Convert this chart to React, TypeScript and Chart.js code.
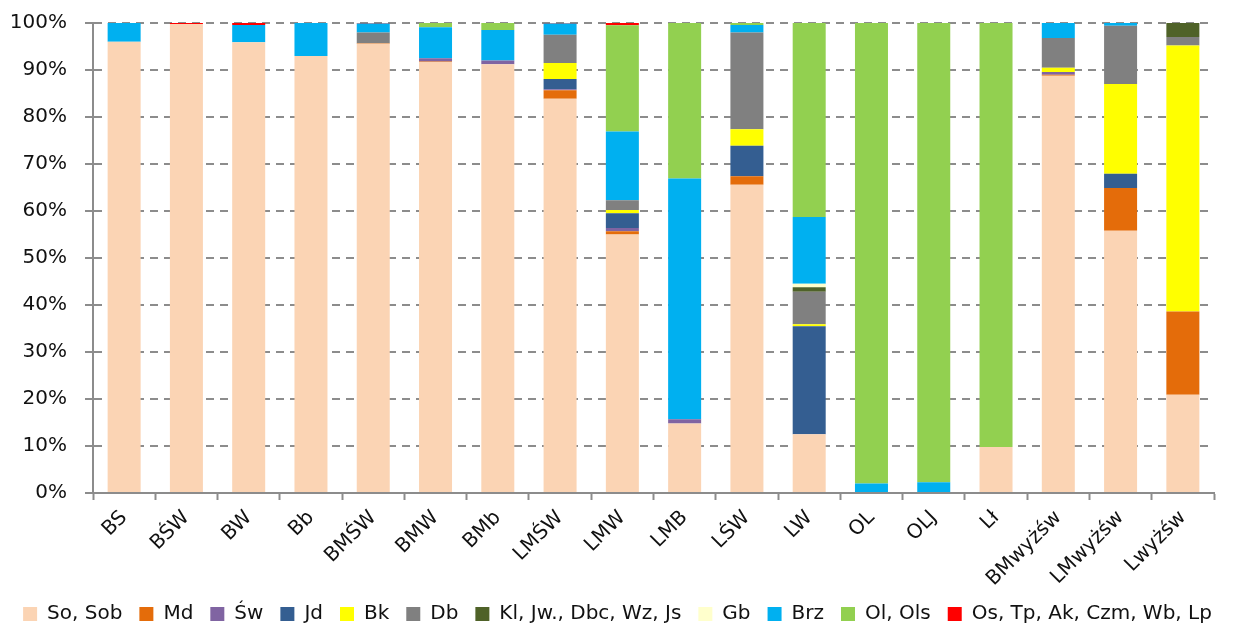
import React, { useEffect, useRef } from "react";
import { Chart, registerables } from "chart.js";

Chart.register(...registerables);

const categories = [
  "BS", "BŚW", "BW", "Bb", "BMŚW", "BMW", "BMb", "LMŚW", "LMW", "LMB",
  "LŚW", "LW", "OL", "OLJ", "Lł", "BMwyżśw", "LMwyżśw", "Lwyżśw",
];

const seriesNames = [
  "So, Sob", "Md", "Św", "Jd", "Bk", "Db", "Kl, Jw., Dbc, Wz, Js", "Gb", "Brz", "Ol, Ols",
  "Os, Tp, Ak, Czm, Wb, Lp",
];

const seriesColors = [
  "#FBD4B4", "#E46C0A", "#8064A2", "#345E91", "#FFFF00", "#808080", "#4F6228",
  "#FFFFCC", "#00B0F0", "#92D050", "#FF0000",
];

const soSob = [96.0, 99.8, 95.9, 93.0, 95.6, 91.7, 91.2, 83.9, 55.0, 14.8, 65.6, 12.5, 0, 0, 9.8, 88.8, 55.8, 20.9];
const md = [0, 0, 0, 0, 0.1, 0.1, 0, 1.8, 0.7, 0, 1.8, 0, 0, 0, 0, 0.2, 9.1, 17.7];
const sw = [0, 0, 0, 0, 0, 0.7, 0.8, 0.2, 0.7, 0.9, 0, 0, 0, 0, 0, 0.6, 0, 0];
const jd = [0, 0, 0, 0, 0, 0, 0, 2.2, 3.1, 0, 6.5, 23.0, 0, 0, 0, 0, 3.0, 0];
const bk = [0, 0, 0, 0, 0, 0, 0, 3.4, 0.7, 0, 3.5, 0.4, 0, 0, 0, 0.9, 19.1, 56.6];
const db = [0, 0, 0, 0, 2.3, 0, 0, 6.0, 2.1, 0, 20.6, 6.9, 0, 0, 0, 6.3, 12.4, 1.8];
const kl = [0, 0, 0, 0, 0, 0, 0, 0, 0, 0, 0, 1.0, 0, 0, 0, 0, 0, 3.0];
const gb = [0, 0, 0, 0, 0, 0, 0, 0, 0, 0, 0, 0.7, 0, 0, 0, 0, 0, 0];
const brz = [4.0, 0, 3.7, 7.0, 1.9, 6.6, 6.5, 2.4, 14.6, 51.2, 1.6, 14.2, 2.0, 2.3, 0, 3.2, 0.6, 0];
const ol = [0, 0, 0, 0, 0, 0.9, 1.5, 0, 22.6, 33.1, 0.4, 41.3, 98.0, 97.7, 90.2, 0, 0, 0];
const os = [0, 0.2, 0.4, 0, 0.1, 0, 0, 0.1, 0.5, 0, 0, 0, 0, 0, 0, 0, 0, 0];

const seriesValues = [soSob, md, sw, jd, bk, db, kl, gb, brz, ol, os];

const yTicks = [0, 10, 20, 30, 40, 50, 60, 70, 80, 90, 100];

export default function App() {
  const ref = useRef<HTMLCanvasElement | null>(null);

  useEffect(() => {
    if (!ref.current) return;
    Chart.defaults.font.family = "'DejaVu Sans', sans-serif";
    Chart.defaults.color = "#111";
    const chart = new Chart(ref.current, {
      type: "bar",
      data: {
        labels: categories,
        datasets: seriesNames.map((name, i) => ({
          label: name,
          data: seriesValues[i],
          backgroundColor: seriesColors[i],
          borderWidth: 0,
          categoryPercentage: 1,
          barPercentage: 0.53,
        })),
      },
      options: {
        animation: false,
        responsive: true,
        maintainAspectRatio: false,
        layout: { autoPadding: false, padding: { top: 23, right: 0, left: 0, bottom: -11 } },
        plugins: {
          tooltip: { enabled: false },
          legend: {
            position: "bottom",
            labels: {
              boxWidth: 14,
              boxHeight: 14,
              padding: 17,
              font: { size: 20 },
              color: "#111",
            },
          },
        },
        scales: {
          x: {
            stacked: true,
            grid: {
              drawOnChartArea: false,
              offset: true,
              tickLength: 7,
              tickColor: "#8c8c8c",
              tickWidth: 2,
            },
            border: { color: "#8c8c8c", width: 2 },
            ticks: {
              font: { size: 20 },
              maxRotation: 45,
              minRotation: 45,
              autoSkip: false,
              padding: 6,
              color: "#111",
            },
            afterFit: (scale: any) => {
              scale.height = 94;
              scale.paddingLeft = 0;
              scale.paddingRight = 0;
            },
          },
          y: {
            stacked: true,
            min: 0,
            max: 100,
            afterBuildTicks: (scale: any) => {
              scale.ticks = yTicks.map((v) => ({ value: v }));
            },
            grid: {
              color: "#8c8c8c",
              lineWidth: 2,
              tickLength: 8,
              tickColor: "#8c8c8c",
              tickWidth: 2,
              tickBorderDash: [],
            },
            border: { color: "#8c8c8c", width: 2, dash: [8, 6] },
            ticks: {
              font: { size: 20 },
              padding: 18,
              color: "#111",
              callback: (v: any) => v + "%",
            },
            afterFit: (scale: any) => {
              scale.width = 93;
              scale.paddingTop = 0;
              scale.paddingBottom = 0;
            },
          },
          yRight: {
            position: "right",
            display: true,
            min: 0,
            max: 100,
            grid: { display: false, drawTicks: false },
            border: { display: false },
            ticks: { display: false },
            afterFit: (scale: any) => {
              scale.width = 21;
              scale.paddingTop = 0;
              scale.paddingBottom = 0;
            },
          },
        },
      },
    });
    return () => chart.destroy();
  }, []);

  return (
    <div style={{ position: "absolute", left: 0, top: 0, width: 1235, height: 623 }}>
      <canvas ref={ref} />
    </div>
  );
}
